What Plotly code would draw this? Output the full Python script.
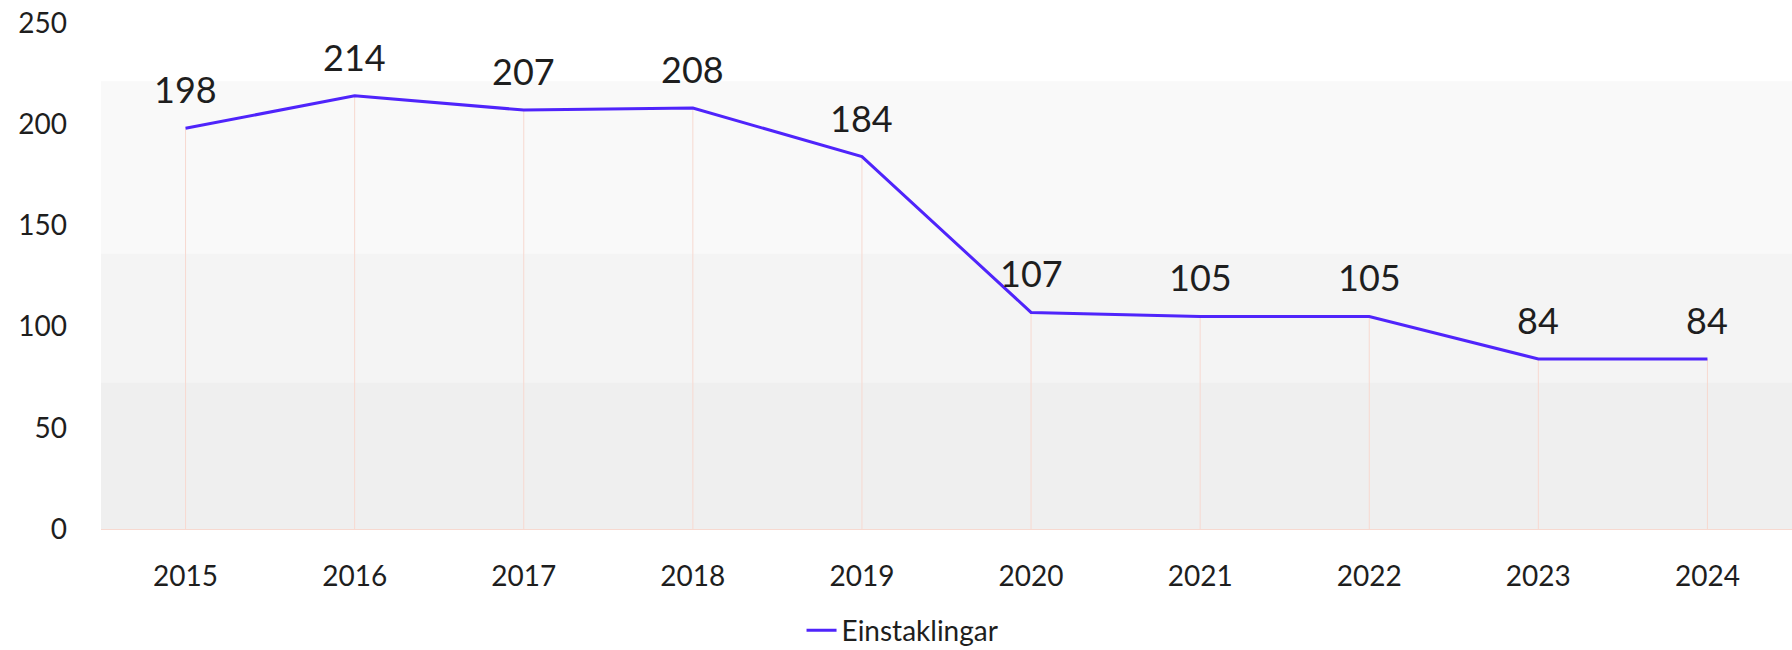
import plotly.graph_objects as go

# Annual counts
years = ["2015", "2016", "2017", "2018", "2019", "2020", "2021", "2022", "2023", "2024"]
einstaklingar = [198, 214, 207, 208, 184, 107, 105, 105, 84, 84]
y_ticks = [0, 50, 100, 150, 200, 250]

LINE_COLOR = "#4f24fb"
DROP_COLOR = "#f7d9d0"
TEXT_COLOR = "#1e1e1e"
FONT = "Lato"

fig = go.Figure()

# Thin drop lines from each point down to the baseline
fig.add_trace(go.Scatter(
    x=years, y=einstaklingar, mode="markers",
    marker=dict(size=0.1, opacity=0),
    error_y=dict(type="data", symmetric=False, array=[0] * len(years),
                 arrayminus=einstaklingar, color=DROP_COLOR, thickness=1, width=0),
    showlegend=False, hoverinfo="skip",
))

fig.add_trace(go.Scatter(
    x=years, y=einstaklingar, mode="lines", name="Einstaklingar",
    line=dict(color=LINE_COLOR, width=3),
))

# Value labels above each point (category axis: position by index)
for i, v in enumerate(einstaklingar):
    fig.add_annotation(x=i, y=v, text=str(v), showarrow=False,
                       yanchor="middle", yshift=39,
                       font=dict(family=FONT, size=36, color=TEXT_COLOR))

# Shaded background bands
bands = [(0.0, 0.29, "#efefef"), (0.29, 0.545, "#f4f4f4"), (0.545, 0.885, "#f9f9f9")]
for y0, y1, c in bands:
    fig.add_shape(type="rect", xref="paper", yref="paper", x0=0, x1=1, y0=y0, y1=y1,
                  fillcolor=c, line=dict(width=0), layer="below")

fig.update_layout(
    width=1792, height=650,
    margin=dict(l=101, r=0, t=23, b=121),
    paper_bgcolor="white", plot_bgcolor="white",
    font=dict(family=FONT, size=28, color=TEXT_COLOR),
    legend=dict(orientation="h", x=0.474, xanchor="center",
                yref="container", y=0.03, yanchor="middle",
                font=dict(size=28), bgcolor="rgba(0,0,0,0)"),
    xaxis=dict(type="category", range=[-0.5, 9.5], showgrid=False, zeroline=False,
               showline=True, linecolor=DROP_COLOR, linewidth=1,
               ticks="", ticklabelstandoff=22, tickfont=dict(size=28)),
    yaxis=dict(range=[0, 250], tickvals=y_ticks, showgrid=False, zeroline=False,
               showline=False, ticks="", ticklabelstandoff=33, tickfont=dict(size=28)),
)

fig.write_html("out.html")
